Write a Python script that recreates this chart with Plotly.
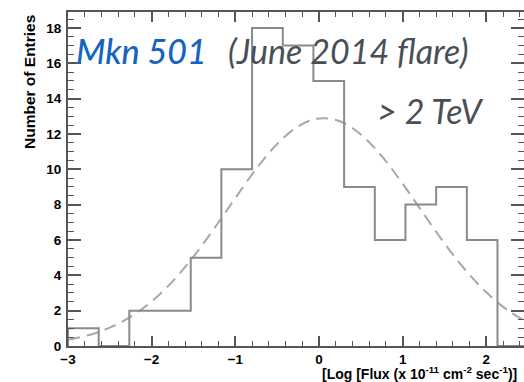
import plotly.graph_objects as go

# Histogram bin edges (log flux) and counts per bin
bin_edges = [-3.0, -2.633, -2.267, -1.9, -1.533, -1.167, -0.8, -0.433, -0.067,
             0.3, 0.667, 1.033, 1.4, 1.767, 2.133, 2.5]
counts = [1, 0, 2, 2, 5, 10, 18, 17, 15, 9, 6, 8, 9, 6, 0]

# Gaussian fit curve
fit_x = [-3.0, -2.75, -2.5, -2.25, -2.0, -1.75, -1.5, -1.25, -1.0, -0.75, -0.5,
         -0.25, 0.0, 0.25, 0.5, 0.75, 1.0, 1.25, 1.5, 1.75, 2.0, 2.25, 2.5]
fit_y = [0.35, 0.62, 1.04, 1.66, 2.52, 3.66, 5.06, 6.67, 8.37, 10.03, 11.43,
         12.43, 12.88, 12.72, 11.97, 10.74, 9.18, 7.48, 5.81, 4.30, 3.04, 2.04, 1.31]

x_ticks = [-3, -2, -1, 0, 1, 2]
y_ticks = [0, 2, 4, 6, 8, 10, 12, 14, 16, 18]

step_x = [bin_edges[0]] + bin_edges
step_y = [0] + counts + [counts[-1]]

fig = go.Figure()
fig.add_trace(go.Scatter(x=fit_x, y=fit_y, mode="lines", line_shape="spline",
                         line=dict(color="#a8a8a8", width=2, dash="12px,7px"),
                         hoverinfo="skip", showlegend=False))
fig.add_trace(go.Scatter(x=step_x, y=step_y, mode="lines", line_shape="hv",
                         line=dict(color="#8a8a8a", width=2),
                         hoverinfo="skip", showlegend=False))

L, T, B = 68, 12, 36
W, H = 524, 382
PH = H - T - B
PW = W - L


def px_x(p):
    return (p - L) / PW


def px_y(p):
    return (H - B - p) / PH


tickfont = dict(family="Liberation Sans", size=13.5, color="black", weight="bold")
frame = "#555555"

fig.update_layout(
    width=W, height=H,
    margin=dict(l=L, r=0, t=T, b=B, autoexpand=False),
    paper_bgcolor="white", plot_bgcolor="white",
    xaxis=dict(range=[-3, 2.45], tickvals=x_ticks, ticks="inside", ticklen=10,
               tickwidth=1.5, tickcolor=frame, showline=True, linecolor=frame,
               linewidth=2, mirror="allticks", showgrid=False, zeroline=False,
               tickfont=tickfont, automargin=False,
               minor=dict(dtick=0.2, tick0=-3, ticks="inside", ticklen=5,
                          tickwidth=1.2, tickcolor=frame, showgrid=False)),
    yaxis=dict(range=[0, 18.9], tickvals=y_ticks, ticks="inside", ticklen=13,
               tickwidth=1.5, tickcolor=frame, showline=True, linecolor=frame,
               linewidth=2, mirror="allticks", showgrid=False, zeroline=False,
               tickfont=tickfont, ticklabelstandoff=2, automargin=False,
               minor=dict(dtick=0.5, tick0=0, ticks="inside", ticklen=6,
                          tickwidth=1.2, tickcolor=frame, showgrid=False)),
    annotations=[
        dict(text="Number of Entries", textangle=-90, xref="paper", yref="paper",
             x=px_x(30), y=px_y(13), xanchor="center", yanchor="top",
             showarrow=False,
             font=dict(family="Liberation Sans", size=15.5, color="black", weight="bold")),
        dict(text="[Log [Flux (x 10<sup>-11</sup> cm<sup>-2</sup> sec<sup>-1</sup>)]",
             xref="paper", yref="paper", x=px_x(519), y=px_y(373),
             xanchor="right", yanchor="middle", showarrow=False,
             font=dict(family="Liberation Sans", size=14, color="black", weight="bold")),
        dict(text="<i>Mkn 501</i>", xref="paper", yref="paper",
             x=px_x(74), y=px_y(51), xanchor="left", yanchor="middle", showarrow=False,
             font=dict(family="Lato", size=34, color="#1565c0", weight=500)),
        dict(text="<i>(June 2014 flare)</i>", xref="paper", yref="paper",
             x=px_x(226), y=px_y(51), xanchor="left", yanchor="middle", showarrow=False,
             font=dict(family="Lato", size=34, color="#4a4f56")),
        dict(text="<i>> 2 TeV</i>", xref="paper", yref="paper",
             x=px_x(375), y=px_y(110), xanchor="left", yanchor="middle", showarrow=False,
             font=dict(family="Lato", size=34, color="#4a4f56")),
    ],
)

fig.write_html("out.html", config={"displayModeBar": False},
               post_script="document.body.style.margin='0px';"
                           "document.body.style.overflow='hidden';")
